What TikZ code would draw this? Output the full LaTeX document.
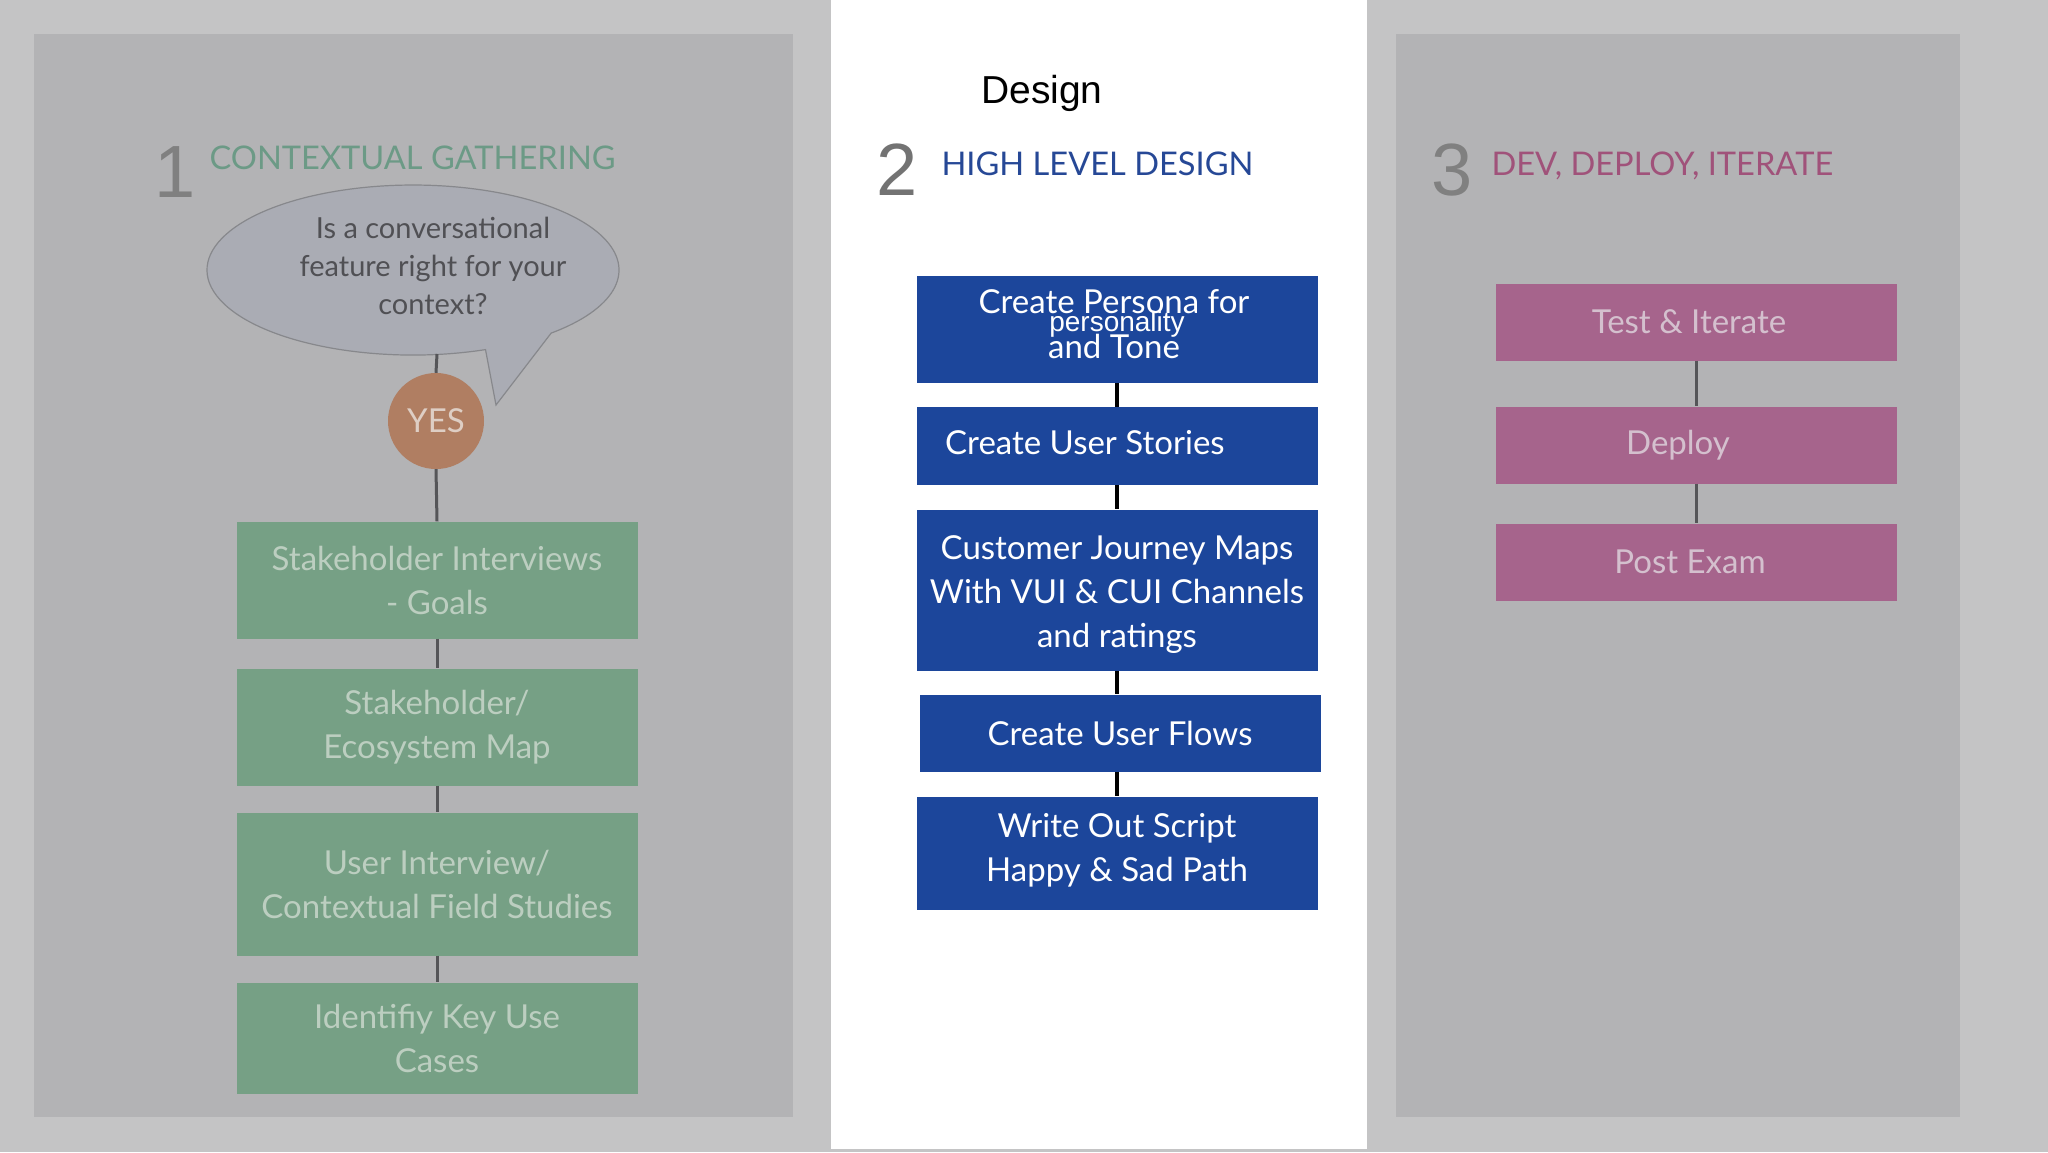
\documentclass[tikz,border=0pt]{standalone}
\usepackage{fontspec}
\setmainfont{Lato}
\newfontfamily\helv{Liberation Sans}
\usetikzlibrary{shapes.geometric}
\definecolor{outergray}{RGB}{196,196,197}
\definecolor{innergray}{RGB}{179,179,181}
\definecolor{boxgreen}{RGB}{118,160,133}
\definecolor{gtext}{RGB}{188,206,192}
\definecolor{gtitle}{RGB}{108,154,134}
\definecolor{boxblue}{RGB}{28,70,155}
\definecolor{btitle}{RGB}{38,72,150}
\definecolor{boxpink}{RGB}{166,100,140}
\definecolor{ptext}{RGB}{212,192,206}
\definecolor{ptitle}{RGB}{160,82,122}
\definecolor{numgray}{RGB}{128,128,128}
\definecolor{linegray}{RGB}{85,85,88}
\definecolor{bubblefill}{RGB}{170,172,180}
\definecolor{bubbleline}{RGB}{135,136,140}
\definecolor{yesfill}{RGB}{176,126,98}
\definecolor{yestext}{RGB}{222,206,196}
\definecolor{bubbletext}{RGB}{80,80,84}
\tikzset{
  boxfont/.style={font=\fontsize{33}{44}\selectfont},
  gbox/.style={fill=boxgreen, minimum width=401pt, inner sep=0pt, text=gtext, align=center, boxfont},
  bbox/.style={fill=boxblue, minimum width=401pt, inner sep=0pt, text=white, align=center, boxfont},
  pbox/.style={fill=boxpink, minimum width=401pt, minimum height=77pt, inner sep=0pt, text=ptext, align=center, boxfont},
  gline/.style={draw=linegray, line width=3pt},
  bline/.style={draw=black, line width=4pt},
  numtxt/.style={font=\helv\fontsize{74}{74}\selectfont, text=numgray},
  ttl/.style={anchor=west, font=\fontsize{32.6}{38}\selectfont},
  plain/.style={inner sep=0pt}
}
\begin{document}
\begin{tikzpicture}[x=1pt,y=-1pt]
\useasboundingbox (0,0) rectangle (2048,1152);
\fill[outergray] (0,0) rectangle (2048,1152);
\fill[white] (831,0) rectangle (1367,1149);
\fill[innergray] (34,34) rectangle (793,1117);
\fill[innergray] (1396,34) rectangle (1960,1117);

% ---------- panel 1 ----------
\node[numtxt] (n1) at (175,172) {1};
\node[ttl, text=gtitle] (t1) at (206,158) {CONTEXTUAL GATHERING};

\draw[fill=bubblefill, draw=bubbleline, line width=1.2pt]
  (496,405) -- (485.5,349.6) arc[start angle=69.4, end angle=407.9, x radius=206, y radius=85] -- cycle;
\node[plain, align=center, text=bubbletext, font=\fontsize{29}{38}\selectfont] (q) at (433,266)
  {Is a conversational\\feature right for your\\context?};
\coordinate (bubblebot) at (437,354);

\node[circle, fill=yesfill, minimum size=96pt, inner sep=0pt, text=yestext, font=\fontsize{33}{33}\selectfont] (yes) at (436,421) {YES};

\node[gbox, minimum height=117pt] (g1) at (437,580) {Stakeholder Interviews\\- Goals};
\node[gbox, minimum height=117pt] (g2) at (437,727) {Stakeholder/\\Ecosystem Map};
\node[gbox, minimum height=143pt] (g3) at (437,884) {User Interview/\\Contextual Field Studies};
\node[gbox, minimum height=111pt] (g4) at (437,1038) {Identifiy Key Use\\Cases};

\draw[gline] (bubblebot) -- (yes.north);
\draw[gline] (yes.south) -- (g1.north);
\draw[gline] (g1.south) -- (g2.north);
\draw[gline] (g2.south) -- (g3.north);
\draw[gline] (g3.south) -- (g4.north);

% ---------- panel 2 ----------
\node[plain, anchor=west, font=\helv\fontsize{39}{39}\selectfont, text=black] (dsg) at (981,93) {Design};
\node[numtxt, text=numgray!90!black] (n2) at (897,170) {2};
\node[ttl, text=btitle] (t2) at (938,164) {HIGH LEVEL DESIGN};

\node[bbox, minimum height=107pt] (b1) at (1117,329) {};
\node[plain, text=white, boxfont] (b1a) at (1114,302) {Create Persona for};
\node[plain, text=white, font=\helv\fontsize{28}{28}\selectfont] (b1b) at (1117,324) {personality};
\node[plain, text=white, boxfont] (b1c) at (1114,346) {and Tone};

\node[bbox, minimum height=78pt] (b2) at (1117,446) {};
\node[plain, anchor=west, text=white, boxfont] (b2t) at (945,443) {Create User Stories};

\node[bbox, minimum height=161pt] (b3) at (1117,590) {};
\node[plain, text=white, align=center, boxfont] (b3t) at (1117,595) {Customer Journey Maps\\With VUI \& CUI Channels\\and ratings};
\node[bbox, minimum height=77pt] (b4) at (1120,733) {Create User Flows};
\node[bbox, minimum height=113pt] (b5) at (1117,853) {};
\node[plain, text=white, align=center, boxfont] (b5t) at (1117,850) {Write Out Script\\Happy \& Sad Path};

\draw[bline] (b1.south) -- (b2.north);
\draw[bline] (b2.south) -- (b3.north);
\draw[bline] (b3.south) -- (b4.north -| b3.south);
\draw[bline] (b4.south -| b5.north) -- (b5.north);

% ---------- panel 3 ----------
\node[numtxt] (n3) at (1452,170) {3};
\node[ttl, text=ptitle] (t3) at (1488,166) {DEV, DEPLOY, ITERATE};

\node[pbox] (p1) at (1696,322) {};
\node[plain, text=ptext, boxfont] (p1t) at (1689,322) {Test \& Iterate};
\node[pbox] (p2) at (1696,445) {};
\node[plain, text=ptext, boxfont] (p2t) at (1678,445) {Deploy};
\node[pbox] (p3) at (1696,562) {};
\node[plain, text=ptext, boxfont] (p3t) at (1690,562) {Post Exam};

\draw[gline] (p1.south) -- (p2.north);
\draw[gline] (p2.south) -- (p3.north);
\end{tikzpicture}
\end{document}
